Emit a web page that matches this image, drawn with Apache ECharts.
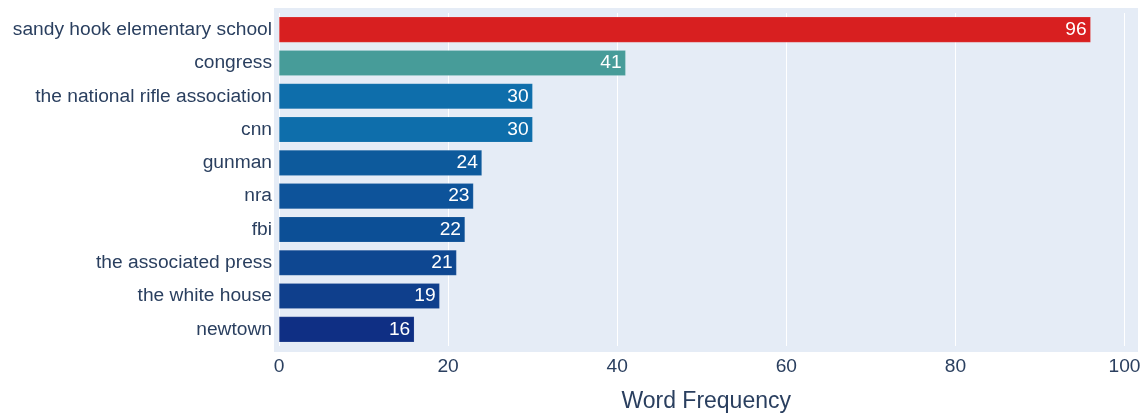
<!DOCTYPE html>
<html>
<head>
<meta charset="utf-8">
<script src="https://cdn.jsdelivr.net/npm/echarts@6/dist/echarts.min.js"></script>
<style>
  html, body { margin: 0; padding: 0; background: #ffffff; }
  #chart { width: 1148px; height: 418px; }
</style>
</head>
<body>
<div id="chart"></div>
<script>
// Most frequent named entities and their counts
const terms = [
  'sandy hook elementary school', 'congress', 'the national rifle association', 'cnn',
  'gunman', 'nra', 'fbi', 'the associated press', 'the white house', 'newtown'
];
const counts = [96, 41, 30, 30, 24, 23, 22, 21, 19, 16];
const barColors = [
  '#d81f20', '#479c99', '#0e6eab', '#0e6eab', '#0d5a9c',
  '#0d539a', '#0c4f96', '#0e4791', '#0f3f8c', '#0f2f84'
];
const xTicks = [0, 20, 40, 60, 80, 100];

const FONT = '"Liberation Sans", Arial, sans-serif';
const INK = '#2a3f5f';
const X_MAX = 101.05;

const chart = echarts.init(document.getElementById('chart'), null, { renderer: 'canvas' });

chart.setOption({
  animation: false,
  backgroundColor: '#ffffff',
  textStyle: { fontFamily: FONT },
  graphic: [{
    type: 'rect',
    z: -10,
    silent: true,
    shape: { x: 274, y: 8, width: 864, height: 344 },
    style: { fill: '#e5ecf6' }
  }],
  grid: { left: 279, right: 14.6, top: 13, bottom: 71, containLabel: false },
  xAxis: {
    type: 'value',
    min: 0,
    max: X_MAX,
    interval: 20,
    name: 'Word Frequency',
    nameLocation: 'middle',
    nameGap: 44,
    nameTextStyle: { fontSize: 23, color: INK, fontFamily: FONT },
    axisLine: { show: false },
    axisTick: { show: false },
    axisLabel: {
      fontSize: 19.2, color: INK, fontFamily: FONT, margin: 11,
      showMaxLabel: false,
      formatter: v => (xTicks.includes(v) ? String(v) : '')
    },
    splitLine: {
      show: true,
      showMaxLine: false,
      lineStyle: { color: '#ffffff', width: 1 }
    }
  },
  yAxis: {
    type: 'category',
    data: terms,
    inverse: true,
    axisLine: { show: false },
    axisTick: { show: false },
    splitLine: { show: false },
    axisLabel: { fontSize: 19.2, color: INK, fontFamily: FONT, margin: 7, padding: [2, 0, 0, 0] }
  },
  series: [{
    type: 'bar',
    data: counts.map((v, i) => ({ value: v, itemStyle: { color: barColors[i] } })),
    barCategoryGap: '23%',
    itemStyle: { borderColor: 'rgba(255,255,255,0.25)', borderWidth: 0.5 },
    label: {
      show: true,
      position: 'insideRight',
      distance: 4,
      color: '#ffffff',
      fontSize: 19.2,
      fontFamily: FONT,
      padding: [2, 0, 0, 0]
    }
  }]
});
</script>
</body>
</html>
